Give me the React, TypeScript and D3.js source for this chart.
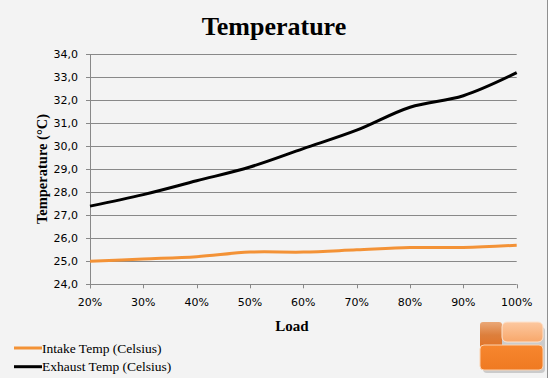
import React from "react";
import * as d3 from "d3";

const categories = ["20%", "30%", "40%", "50%", "60%", "70%", "80%", "90%", "100%"];
const intakeTemp = [25.0, 25.1, 25.2, 25.4, 25.4, 25.5, 25.6, 25.6, 25.7];
const exhaustTemp = [27.4, 27.9, 28.5, 29.1, 29.9, 30.7, 31.7, 32.2, 33.2];
const yTicks = [24, 25, 26, 27, 28, 29, 30, 31, 32, 33, 34];
const seriesNames = ["Intake Temp (Celsius)", "Exhaust Temp (Celsius)"];
const seriesColors = ["#f39236", "#000000"];

export default function App() {
  const W = 549, H = 378;
  const left = 90, right = 516.7, top = 54.3, bottom = 284.3;
  const x = d3.scalePoint<string>().domain(categories).range([left, right]);
  const y = d3.scaleLinear().domain([24, 34]).range([bottom, top]);
  const line = d3
    .line<number>()
    .x((_, i) => x(categories[i]) as number)
    .y((d) => y(d))
    .curve(d3.curveCatmullRom.alpha(0.5));
  const fmt = (v: number) => v.toFixed(1).replace(".", ",");
  const sans = "'DejaVu Sans', Verdana, sans-serif";
  const serif = "'Liberation Serif', 'Times New Roman', serif";
  const series = [intakeTemp, exhaustTemp];

  return (
    <svg width={W} height={H} style={{ position: "absolute", left: 0, top: 0 }}>
      <defs>
        <linearGradient id="lg1" x1="0" y1="0" x2="0" y2="1">
          <stop offset="0" stopColor="#eaa878" />
          <stop offset="0.5" stopColor="#dd7f3c" />
          <stop offset="1" stopColor="#e27326" />
        </linearGradient>
        <linearGradient id="lg2" x1="0" y1="0" x2="0" y2="1">
          <stop offset="0" stopColor="#fcc8a0" />
          <stop offset="1" stopColor="#f8a76a" />
        </linearGradient>
        <linearGradient id="lg3" x1="0" y1="0" x2="0" y2="1">
          <stop offset="0" stopColor="#f7862e" />
          <stop offset="1" stopColor="#ef7a22" />
        </linearGradient>
      </defs>
      <rect x={0} y={0} width={547} height={H} fill="#f3f3f3" />
      <rect x={547} y={0} width={2} height={H} fill="#ffffff" />
      <line x1={547.5} x2={547.5} y1={0} y2={H} stroke="#8f8f8f" />

      <text x={274} y={35} textAnchor="middle" fontFamily={serif} fontWeight="bold" fontSize={26} fill="#000">
        Temperature
      </text>

      {yTicks.map((t) => (
        <g key={t}>
          <line x1={left - 4} x2={right} y1={Math.round(y(t)) + 0.5} y2={Math.round(y(t)) + 0.5} stroke="#888" strokeWidth={1} />
          <text x={78} y={y(t) + 4} textAnchor="end" fontFamily={sans} fontSize={11} fill="#000">
            {fmt(t)}
          </text>
        </g>
      ))}
      <line x1={left + 0.5} x2={left + 0.5} y1={top} y2={bottom + 4} stroke="#888" />
      {categories.map((c) => (
        <g key={c}>
          <line x1={Math.round(x(c) as number) + 0.5} x2={Math.round(x(c) as number) + 0.5} y1={bottom} y2={bottom + 4} stroke="#888" />
          <text x={x(c) as number} y={306} textAnchor="middle" fontFamily={sans} fontSize={11} fill="#000">
            {c}
          </text>
        </g>
      ))}

      <text x={292} y={331} textAnchor="middle" fontFamily={serif} fontWeight="bold" fontSize={15} fill="#000">
        Load
      </text>
      <text
        transform={`translate(47,169) rotate(-90)`}
        textAnchor="middle"
        fontFamily={serif}
        fontWeight="bold"
        fontSize={14.5}
        fill="#000"
      >
        Temperature (°C)
      </text>

      {series.map((s, i) => (
        <path key={i} d={line(s) || ""} fill="none" stroke={seriesColors[i]} strokeWidth={3} strokeLinejoin="round" />
      ))}

      {seriesNames.map((n, i) => (
        <g key={n}>
          <line x1={14} x2={42} y1={348 + i * 18.7} y2={348 + i * 18.7} stroke={seriesColors[i]} strokeWidth={3} />
          <text x={42} y={352.5 + i * 18.7} fontFamily={serif} fontSize={13.5} fill="#000">
            {n}
          </text>
        </g>
      ))}

      <g>
        <rect x={483} y={327} width={62} height={46} rx={4} fill="#555" opacity={0.25} />
        <rect x={480} y={322} width={22} height={26} rx={3} fill="url(#lg1)" />
        <rect x={502} y={322} width={41} height={20} rx={5} fill="url(#lg2)" stroke="#fde3cf" strokeWidth={1} />
        <rect x={480} y={345} width={63} height={25} rx={4} fill="url(#lg3)" stroke="#fbd2b0" strokeWidth={1} />
      </g>
    </svg>
  );
}
